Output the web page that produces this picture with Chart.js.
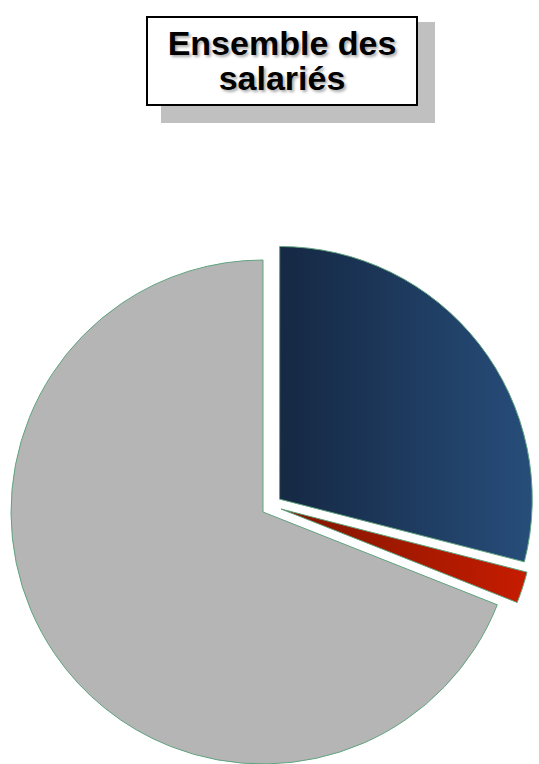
<!DOCTYPE html>
<html>
<head>
<meta charset="utf-8">
<script src="https://cdn.jsdelivr.net/npm/chart.js@4"></script>
<style>
  html, body { margin: 0; padding: 0; background: #ffffff; }
  #wrap { position: relative; width: 539px; height: 764px; overflow: hidden; }
  #chartBox { position: absolute; left: 0; top: 0; width: 539px; height: 764px; }
  #shadow { position: absolute; left: 161px; top: 22px; width: 274px; height: 101px; background: #c0c0c0; }
  #title { position: absolute; left: 146px; top: 16px; width: 268px; height: 86px; background: #ffffff;
    border: 2px solid #000000; display: flex; align-items: center; justify-content: center; text-align: center;
    font-family: "Liberation Sans", Arial, sans-serif; font-weight: bold; font-size: 34px; line-height: 35px;
    color: #000000; text-shadow: 2px 2px 3px rgba(0,0,0,0.35); }
</style>
</head>
<body>
<div id="wrap">
  <div id="chartBox"><canvas id="c"></canvas></div>
  <div id="shadow"></div>
  <div id="title">Ensemble des<br>salariés</div>
</div>
<script>
const categories = ["Catégorie A", "Catégorie B", "Autres"];
const values = [29, 2, 69];
const offsets = [84, 0, 0];

// explosion shift for the small slice (style only, in pixels)
const smallSliceShift = { index: 1, dx: 18, dy: -3 };

function gradFor(ctx, index) {
  const chart = ctx.chart;
  const area = chart.chartArea;
  if (!area) return null;
  const cx = (area.left + area.right) / 2;
  const g = chart.ctx.createLinearGradient(cx + 15, 0, area.right + 8, 0);
  if (index === 0) {
    g.addColorStop(0, "#162a46");
    g.addColorStop(1, "#28507e");
  } else if (index === 1) {
    g.addColorStop(0, "#7e1600");
    g.addColorStop(1, "#c81c00");
  } else {
    return "#b5b5b5";
  }
  return g;
}

const explodePlugin = {
  id: "explodeSmall",
  afterDatasetsUpdate(chart) {
    const el = chart.getDatasetMeta(0).data[smallSliceShift.index];
    if (el) {
      el.x += smallSliceShift.dx;
      el.y += smallSliceShift.dy;
      el.outerRadius += 2;
    }
  }
};

new Chart(document.getElementById("c"), {
  type: "pie",
  data: {
    labels: categories,
    datasets: [{
      data: values,
      offset: offsets,
      backgroundColor: (ctx) => gradFor(ctx, ctx.dataIndex),
      borderColor: "#5fa37f",
      borderWidth: 1
    }]
  },
  options: {
    responsive: true,
    maintainAspectRatio: false,
    animation: false,
    radius: 252,
    layout: { padding: { top: 260, bottom: 0, left: 0, right: 13 } },
    plugins: {
      legend: { display: false },
      tooltip: { enabled: false },
      title: { display: false }
    }
  },
  plugins: [explodePlugin]
});
</script>
</body>
</html>
